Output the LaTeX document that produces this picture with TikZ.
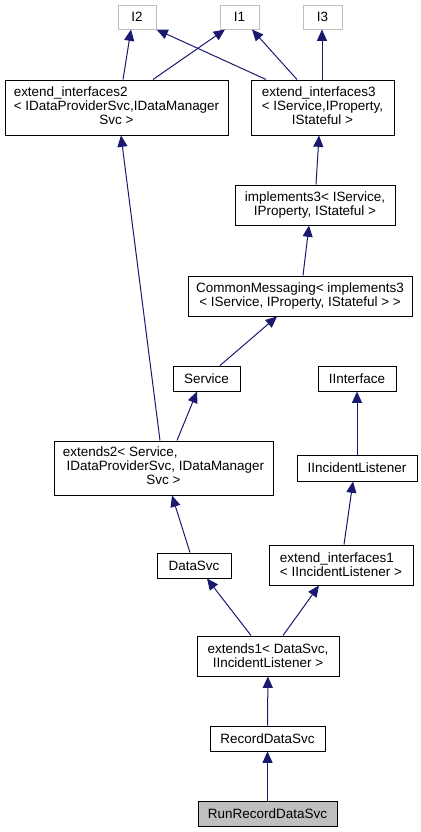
\documentclass[tikz,border=0pt]{standalone}
\usepackage{fontspec}
\setmainfont{Liberation Sans}
\usetikzlibrary{arrows.meta}
\definecolor{edgeblue}{HTML}{191970}
\definecolor{leafgray}{HTML}{BFBFBF}
% two lines on the left, the last one centred
\newcommand{\tlc}[3]{\begin{tabular}{@{}l@{}}#1\\#2\\\multicolumn{1}{@{}c@{}}{#3}\end{tabular}}

\begin{document}
\begin{tikzpicture}[x=0.75pt,y=-0.75pt,
    cls/.style 2 args={draw=black,fill=white,line width=0.75pt,inner sep=0pt,
      minimum width=#1*0.75pt,minimum height=#2*0.75pt,
      font=\fontsize{10.1}{10.6}\selectfont},
    ext/.style 2 args={cls={#1}{#2},draw=leafgray},
    inh/.style={draw=edgeblue,line width=0.75pt,
      -{Triangle[length=8.5pt,width=7.5pt,fill=edgeblue]}}]
  \useasboundingbox (0,0) rectangle (421,832);

  % interfaces at the top
  \node[ext={38}{24}] (I2) at (137,17) {I2};
  \node[ext={39}{24}] (I1) at (239.5,17) {I1};
  \node[ext={39}{24}] (I3) at (322.5,17) {I3};

  \node[cls={223}{55}] (extif2) at (116.5,107.5)
    {\tlc{extend\_interfaces2}{< IDataProviderSvc,IDataManager}{Svc >}};
  \node[cls={143}{55}] (extif3) at (322.5,107.5)
    {\tlc{extend\_interfaces3}{< IService,IProperty,}{IStateful >}};
  \node[cls={160}{40},align=center] (impl3) at (315,205)
    {implements3< IService,\\ IProperty, IStateful >};
  \node[cls={224}{40},align=center] (cmsg) at (300,296)
    {CommonMessaging< implements3\\< IService, IProperty, IStateful > >};
  \node[cls={67}{25}] (service) at (206.5,378.5) {Service};
  \node[cls={78}{25}] (iiface) at (357,378.5) {IInterface};
  \node[cls={219}{54}] (ext2) at (163.5,468)
    {\tlc{extends2< Service,}{\ IDataProviderSvc, IDataManager}{Svc >}};
  \node[cls={120}{26}] (iinc) at (357,468) {IIncidentListener};
  \node[cls={74}{25}] (datasvc) at (194,565.5) {DataSvc};
  \node[cls={144}{40},align=left] (extif1) at (341,565)
    {extend\_interfaces1\\< IIncidentListener >};
  \node[cls={142}{40},align=center] (ext1) at (268,656)
    {extends1< DataSvc,\\ IIncidentListener >};
  \node[cls={115}{25}] (record) at (267.5,738.5) {RecordDataSvc};
  \node[cls={139}{25},fill=leafgray] (runrecord) at (267.5,813.5) {RunRecordDataSvc};

  % inheritance
  \draw[inh] (extif2.north -| 123,0) -- (I2.south -| 131,0);
  \draw[inh] (extif2.north -| 153,0) -- (I1.south -| 225,0);
  \draw[inh] (extif3.north -| 266,0) -- (I2.south east);
  \draw[inh] (extif3.north -| 297,0) -- (I1.south -| 252,0);
  \draw[inh] (extif3.north -| 322,0) -- (I3.south -| 322,0);
  \draw[inh] (impl3.north -| 316,0) -- (extif3.south -| 319,0);
  \draw[inh] (cmsg.north -| 303,0) -- (impl3.south -| 309,0);
  \draw[inh] (service.north -| 220,0) -- (cmsg.south -| 277,0);
  \draw[inh] (ext2.north -| 160,0) -- (extif2.south -| 121,0);
  \draw[inh] (ext2.north -| 177,0) -- (service.south -| 197,0);
  \draw[inh] (datasvc.north -| 190,0) -- (ext2.south -| 172,0);
  \draw[inh] (extif1.north -| 344,0) -- (iinc.south -| 353,0);
  \draw[inh] (iinc.north -| 357,0) -- (iiface.south -| 357,0);
  \draw[inh] (ext1.north -| 251,0) -- (datasvc.south -| 207,0);
  \draw[inh] (ext1.north -| 283,0) -- (extif1.south -| 319,0);
  \draw[inh] (record) -- (ext1);
  \draw[inh] (runrecord) -- (record);
\end{tikzpicture}
\end{document}
